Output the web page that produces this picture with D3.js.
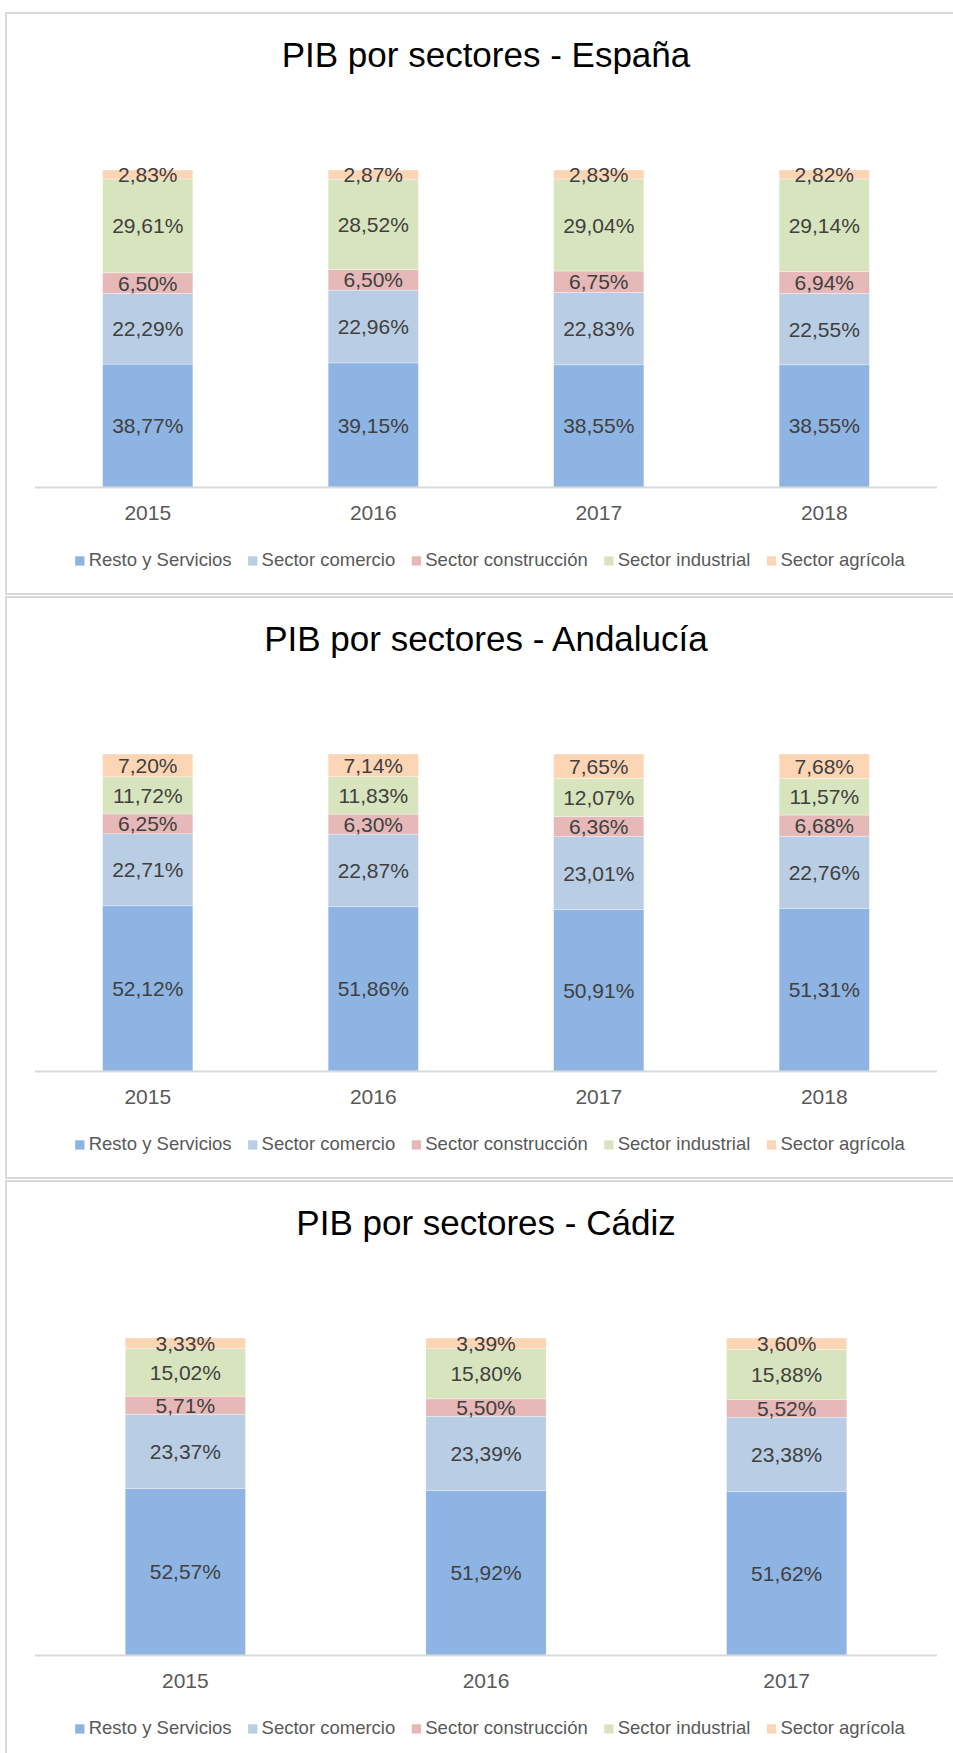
<!DOCTYPE html>
<html>
<head>
<meta charset="utf-8">
<style>
	body { margin: 0; background: #fff; }
	svg { display: block; font-family: "Liberation Sans", Arial, sans-serif; }
	.title { font-size: 35px; fill: #000; }
	.axis text { font-size: 21px; fill: #595959; }
	.axis path { stroke: #d9d9d9; stroke-width: 2px; }
	.label { font-size: 21px; fill: #404040; }
	.legend text { font-size: 18.5px; fill: #595959; }
</style>
<script src="https://d3js.org/d3.v7.min.js"></script>
</head>
<body>
<script>
// sectors, bottom to top
var sectors = ["Resto y Servicios", "Sector comercio", "Sector construcción", "Sector industrial", "Sector agrícola"];
var colors  = ["#8eb4e3", "#b9cde5", "#e6b9b8", "#d7e4bd", "#fcd5b5"];

// España
var espYears   = ["2015", "2016", "2017", "2018"];
var espResto   = [38.77, 39.15, 38.55, 38.55];
var espComer   = [22.29, 22.96, 22.83, 22.55];
var espConst   = [6.50, 6.50, 6.75, 6.94];
var espIndus   = [29.61, 28.52, 29.04, 29.14];
var espAgric   = [2.83, 2.87, 2.83, 2.82];

// Andalucía
var andYears   = ["2015", "2016", "2017", "2018"];
var andResto   = [52.12, 51.86, 50.91, 51.31];
var andComer   = [22.71, 22.87, 23.01, 22.76];
var andConst   = [6.25, 6.30, 6.36, 6.68];
var andIndus   = [11.72, 11.83, 12.07, 11.57];
var andAgric   = [7.20, 7.14, 7.65, 7.68];

// Cádiz
var cadYears   = ["2015", "2016", "2017"];
var cadResto   = [52.57, 51.92, 51.62];
var cadComer   = [23.37, 23.39, 23.38];
var cadConst   = [5.71, 5.50, 5.52];
var cadIndus   = [15.02, 15.80, 15.88];
var cadAgric   = [3.33, 3.39, 3.60];

var W = 953, H = 1753;
var pitch = 584;

var locale = d3.formatLocale({decimal: ",", thousands: ".", grouping: [3], currency: ["", "€"]});
var fmt = locale.format(".2f");

var svg = d3.select("body").append("svg")
	.attr("width", W)
	.attr("height", H);

svg.append("rect").attr("width", W).attr("height", H).attr("fill", "#fff");

function drawPanel(idx, title, years, series) {
	"use strict";
	var g = svg.append("g")
		.attr("transform", "translate(0," + (12 + idx * pitch) + ")");

	// chart border (right edge runs off the page)
	g.append("rect")
		.attr("x", 6)
		.attr("y", 1)
		.attr("width", 1000)
		.attr("height", pitch - 3)
		.attr("fill", "none")
		.attr("stroke", "#d9d9d9")
		.attr("stroke-width", 2);

	g.append("text")
		.attr("class", "title")
		.attr("x", 486)
		.attr("y", 54.5)
		.attr("text-anchor", "middle")
		.text(title);

	var rows = years.map(function(y, i) {
		var r = {year: y};
		sectors.forEach(function(s, k) { r[s] = series[k][i]; });
		return r;
	});
	var stacked = d3.stack().keys(sectors)(rows);

	var x = d3.scaleBand()
		.domain(years)
		.range([35, 937])
		.paddingInner(0.6)
		.paddingOuter(0.3);

	var y = d3.scaleLinear()
		.domain([0, 100])
		.range([475, 158]);

	var layer = g.selectAll("g.layer")
		.data(stacked)
		.enter()
		.append("g")
		  .attr("class", "layer")
		  .attr("fill", function(d, i) { return colors[i]; });

	layer.selectAll("rect")
		.data(function(d) { return d; })
		.enter()
		.append("rect")
		  .attr("x", function(d) { return x(d.data.year); })
		  .attr("y", function(d) { return y(d[1]); })
		  .attr("width", x.bandwidth())
		  .attr("height", function(d) { return y(d[0]) - y(d[1]); })
		  .attr("stroke", "#ffffff")
		  .attr("stroke-opacity", 0.5)
		  .attr("stroke-width", 0.6);

	layer.selectAll("text")
		.data(function(d) { return d; })
		.enter()
		.append("text")
		  .attr("class", "label")
		  .attr("x", function(d) { return x(d.data.year) + x.bandwidth() / 2; })
		  .attr("y", function(d) { return (y(d[0]) + y(d[1])) / 2; })
		  .attr("dy", "0.36em")
		  .attr("text-anchor", "middle")
		  .text(function(d) { return fmt(d[1] - d[0]) + "%"; });

	var x_axis = d3.axisBottom(x).tickSize(0).tickPadding(18);
	g.append("g")
		.attr("class", "axis")
		.attr("transform", "translate(0,475)")
		.call(x_axis)
		.call(function(a) { a.select(".domain").attr("d", "M35,0.5H937"); })
		.selectAll("text").attr("font-family", null).attr("font-size", null);

	// legend
	var leg = g.append("g").attr("class", "legend");
	var cx = 0;
	sectors.forEach(function(s, i) {
		var item = leg.append("g").attr("transform", "translate(" + cx + ",0)");
		item.append("rect")
			.attr("x", 0)
			.attr("y", 544.3)
			.attr("width", 9.3)
			.attr("height", 9.3)
			.attr("fill", colors[i]);
		var t = item.append("text")
			.attr("x", 13.5)
			.attr("y", 554)
			.text(s);
		cx += 13.5 + t.node().getComputedTextLength() + 16.5;
	});
	var total = cx - 16.5;
	leg.attr("transform", "translate(" + (490 - total / 2) + ",0)");
}

drawPanel(0, "PIB por sectores - España", espYears, [espResto, espComer, espConst, espIndus, espAgric]);
drawPanel(1, "PIB por sectores - Andalucía", andYears, [andResto, andComer, andConst, andIndus, andAgric]);
drawPanel(2, "PIB por sectores - Cádiz", cadYears, [cadResto, cadComer, cadConst, cadIndus, cadAgric]);
</script>
</body>
</html>
